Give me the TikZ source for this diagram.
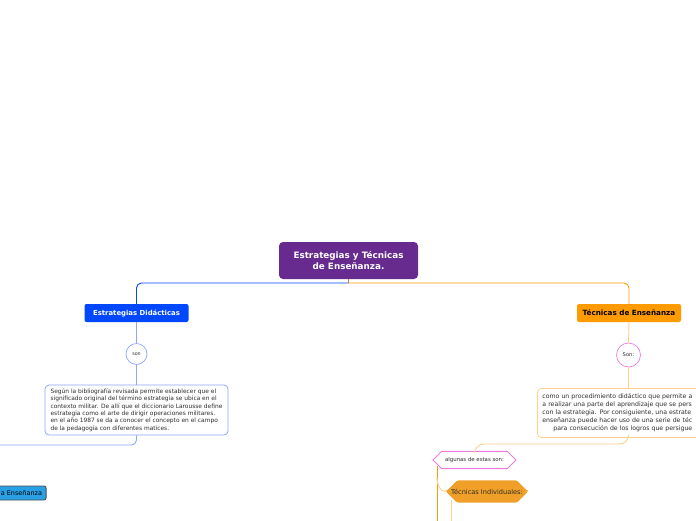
\documentclass[tikz,border=0pt]{standalone}
\usepackage{fontspec}
\setmainfont{DejaVu Sans}
\usetikzlibrary{shapes.misc}
\definecolor{purp}{RGB}{103,43,143}
\definecolor{bblue}{RGB}{0,72,255}
\definecolor{lblue}{RGB}{140,165,255}
\definecolor{borange}{RGB}{255,154,0}
\definecolor{lorange}{RGB}{255,208,140}
\definecolor{pinkb}{RGB}{240,124,224}
\definecolor{tiorange}{RGB}{240,160,40}
\definecolor{skyb}{RGB}{42,160,228}
\definecolor{txtg}{RGB}{45,45,45}
\begin{document}
\begin{tikzpicture}[x=1pt,y=-1pt,
  mainbox/.style={fill=purp, rounded corners=4pt, text=white, font=\bfseries\fontsize{8.8}{11.5}\selectfont, align=center, minimum width=139pt, minimum height=37pt, inner sep=0pt},
  branchbox/.style={rounded corners=2pt, minimum width=104pt, minimum height=18pt, inner sep=0pt},
  circ/.style={circle, draw, fill=white, line width=0.7pt, inner sep=0pt, text=txtg},
  infobox/.style={rounded corners=4pt, draw, fill=white, line width=0.8pt, text=txtg, align=left, inner sep=0pt},
  conn/.style={line width=0.9pt, rounded corners=5pt}
]
\useasboundingbox (0,0) rectangle (696,520);
\clip (0,0) rectangle (696,520);

% nodes
\node[mainbox] (main) at (348.5,260.5) {Estrategias y Técnicas\\de Enseñanza.};
\node[branchbox, fill=bblue, text=white, font=\bfseries\fontsize{6.9}{8}\selectfont] (ed) at (136.5,313) {Estrategias Didácticas};
\node[branchbox, fill=borange, text=black, font=\bfseries\fontsize{7.2}{8}\selectfont] (te) at (629,313) {Técnicas de Enseñanza};
\node[circ, draw=lblue, minimum size=21pt, font=\fontsize{4.8}{5}\selectfont] (son1) at (136.5,354) {son};
\node[circ, draw=pinkb, minimum size=24pt, font=\fontsize{5.2}{6}\selectfont] (son2) at (628.5,355) {Son:};
\node[infobox, draw=lblue, minimum width=183pt, minimum height=50pt, font=\fontsize{5.9}{7.4}\selectfont] (lbox) at (136.5,410)
 {Según la bibliografía revisada permite establecer que el\\
  significado original del término estrategia se ubica en el\\
  contexto militar. De allí que el diccionario Larousse define\\
  estrategia como el arte de dirigir operaciones militares.\\
  en el año 1987 se da a conocer el concepto en el campo\\
  de la pedagogía con diferentes matices.};
\node[infobox, draw=lorange, anchor=north west, minimum width=230pt, minimum height=49pt, inner xsep=5pt, text width=220pt, font=\fontsize{6.2}{8}\selectfont] (rbox) at (537,388)
 {como un procedimiento didáctico que permite a\\
  a realizar una parte del aprendizaje que se pers\\
  con la estrategia. Por consiguiente, una estrate\\
  enseñanza puede hacer uso de una serie de téc\\
  \hspace*{11pt}para consecución de los logros que persigue};
\node[chamfered rectangle, chamfered rectangle xsep=7pt, chamfered rectangle ysep=6pt, draw=pinkb, fill=white, line width=0.8pt, minimum width=83pt, minimum height=12pt, inner sep=0pt, text=txtg, font=\fontsize{5.4}{6}\selectfont] (alg) at (474.5,460) {algunas de estas son:};
\node[chamfered rectangle, chamfered rectangle xsep=4pt, chamfered rectangle ysep=8.5pt, rounded corners=1.5pt, fill=tiorange, minimum width=82pt, minimum height=17pt, inner sep=0pt, text=txtg, font=\fontsize{6.6}{7}\selectfont] (ti) at (487,491.5) {Técnicas Individuales:};
\node[anchor=east, fill=skyb, draw=black!70, line width=0.8pt, rounded corners=2pt, minimum height=14pt, inner ysep=0pt, inner xsep=4pt, font=\fontsize{6.5}{7}\selectfont] (ae) at (46.5,493) {\hspace*{40pt}a Enseñanza};

% helper coordinates
\coordinate (hub) at (348.5,283);
\coordinate (lend) at (0,445);
\coordinate (v1top) at (437,466);
\coordinate (v1bot) at (437,521);
\coordinate (v1br) at (437,478);
\coordinate (v2top) at (451,500);
\coordinate (v2bot) at (451,521);

% connectors
\draw[line width=0.9pt, color=brown!70!orange] (main.south) -- (hub);
\draw[conn, bblue] (hub) -| (ed.north);
\draw[conn, borange] (hub) -| (te.north);
\draw[line width=0.9pt, lblue] (ed.south) -- (son1.north);
\draw[line width=0.9pt, lblue] (son1.south) -- (lbox.north);
\draw[conn, lblue] (lbox.south) |- (lend);
\draw[line width=0.9pt, lorange] (te.south) -- (son2.north);
\draw[line width=0.9pt, lorange] (son2.south) -- (rbox.north -| son2.south);
\draw[line width=0.9pt, lorange, rounded corners=9pt] (rbox.south -| son2.south) -- (628.5,444) -- (475,444) -- (alg.north);
\draw[line width=0.9pt, borange] (v1top) -- (v1bot);
\draw[line width=0.9pt, lorange] (v1br) to[out=-90,in=180] (ti.west);
\draw[line width=0.9pt, lorange] (v2top) -- (v2bot);
\end{tikzpicture}
\end{document}
